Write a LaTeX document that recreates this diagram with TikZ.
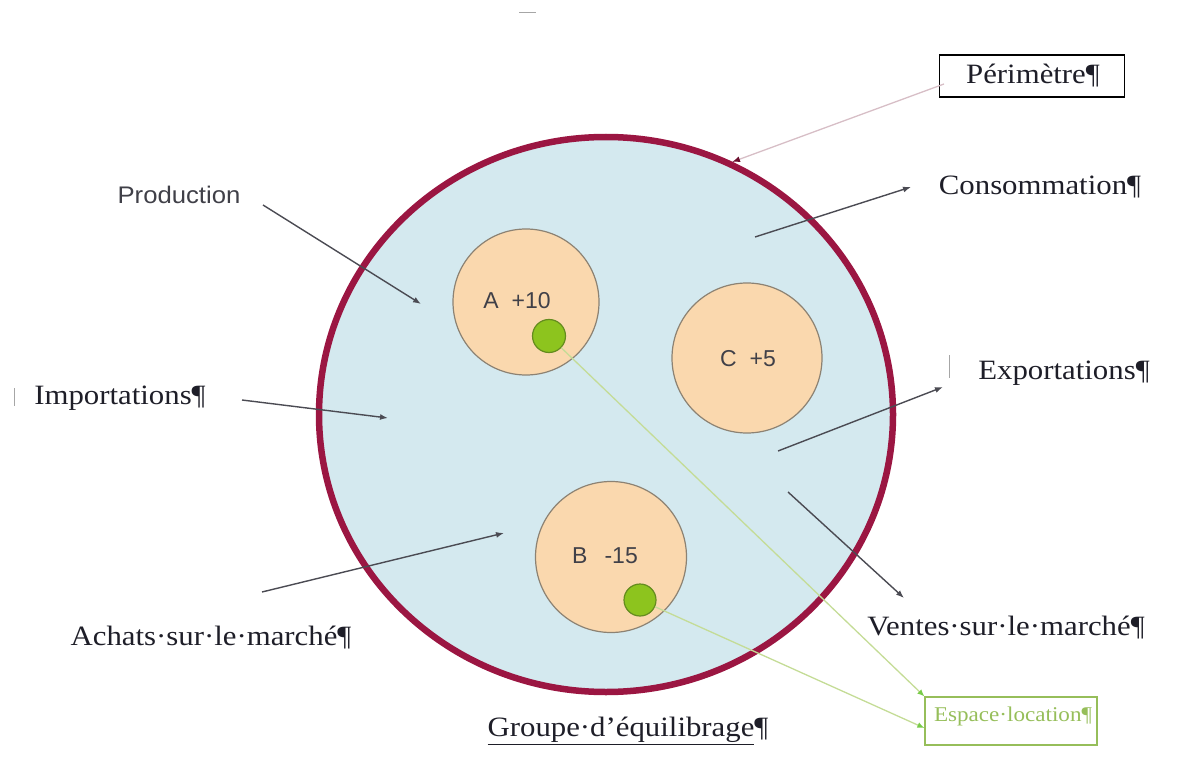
\documentclass[tikz,border=0pt]{standalone}
\usepackage{fontspec}
\setmainfont{Liberation Serif}
\newfontfamily\wideser[FakeStretch=1.1]{Liberation Serif}
\newfontfamily\arialf{Liberation Sans}
\newfontfamily\widearial[FakeStretch=1.07]{Liberation Sans}
\usetikzlibrary{arrows.meta,shapes.geometric}
\definecolor{maroon}{RGB}{155,22,66}
\definecolor{skyfill}{RGB}{212,233,239}
\definecolor{peach}{RGB}{250,216,174}
\definecolor{peachline}{RGB}{140,130,115}
\definecolor{dotgreen}{RGB}{141,196,30}
\definecolor{dotline}{RGB}{100,140,30}
\definecolor{espgreen}{RGB}{150,190,90}
\definecolor{espline}{RGB}{196,220,150}
\definecolor{perline}{RGB}{215,190,198}
\definecolor{txt}{RGB}{30,30,40}
\tikzset{
  serlab/.style={font=\wideser\fontsize{28}{30}\selectfont, text=txt, inner sep=0pt},
  sanlab/.style={font=\arialf\fontsize{23}{26}\selectfont, text=txt!85, inner sep=0pt},
  arr/.style={draw=txt!80, line width=1.4pt, -{Latex[length=8pt,width=6pt]}},
  member/.style={circle, fill=peach, draw=peachline, line width=1.2pt, inner sep=0pt},
  gdot/.style={circle, fill=dotgreen, draw=dotline, line width=1.2pt, inner sep=0pt},
  garr/.style={draw=espline, line width=1.3pt, -{Latex[length=7pt,width=6pt,fill=espgreen!80!green,color=espgreen!80!green]}},
  tick/.style={draw=gray!70, line width=1pt}
}
\begin{document}
\begin{tikzpicture}[x=1pt,y=-1pt]
\useasboundingbox (0,0) rectangle (1202,778);
% perimeter
\node[ellipse, fill=skyfill, draw=maroon, line width=6.5pt, minimum width=574pt, minimum height=555pt, inner sep=0pt] (grp) at (606,414.5) {};
% members
\node[member, minimum size=146pt] (A) at (526,302) {};
\node[member, minimum size=150pt] (C) at (747,358) {};
\node[member, minimum size=151pt] (B) at (611,557) {};
\node[sanlab] (Alab) at (517,301) {A\hspace{13pt}+10};
\node[sanlab] (Clab) at (748,359) {C\hspace{13pt}+5};
\node[sanlab] (Blab) at (605,556) {B\hspace{17pt}-15};
\node[gdot, minimum size=33pt] (dA) at (549,336) {};
\node[gdot, minimum size=32pt] (dB) at (640,600) {};
% labels
\node[draw=black, line width=1.6pt, minimum width=185pt, minimum height=42pt, inner sep=0pt] (per) at (1032,76) {};
\node[serlab] (perlab) at (1033,76) {Périmètre¶};
\node[sanlab, font=\widearial\fontsize{24}{26}\selectfont] (prod) at (179,195) {Production};
\node[serlab] (cons) at (1040,187) {Consommation¶};
\node[serlab] (imp) at (120,398) {Importations¶};
\node[serlab] (exp) at (1064,373) {Exportations¶};
\node[serlab] (ach) at (211,638) {Achats·sur·le·marché¶};
\node[serlab] (ven) at (1006,628) {Ventes·sur·le·marché¶};
\node[serlab] (grplab) at (628,731) {\underline{Groupe·d’équilibrage}¶};
\node[draw=espgreen, line width=1.3pt, minimum width=172pt, minimum height=48pt, inner sep=0pt] (esp) at (1011,721) {};
\node[serlab, text=espgreen, font=\wideser\fontsize{21}{24}\selectfont] (esplab) at (1013,716) {Espace·location¶};
% small marks
\draw[tick] (14,388) -- (14,406);
\draw[tick] (949,355) -- (949,378);
\draw[tick] (519,13) -- (536,13);
% arrows
\coordinate (perS) at (944,84);
\coordinate (perE) at (732,162);
\draw[draw=perline, line width=1.3pt, -{Latex[length=8pt,width=6pt,fill=maroon!70!black,color=maroon!70!black]}] (perS) -- (perE);
\coordinate (prodS) at (263,205);
\coordinate (prodE) at (421,304);
\draw[arr] (prodS) -- (prodE);
\coordinate (consS) at (755,237);
\coordinate (consE) at (911,187);
\draw[arr] (consS) -- (consE);
\coordinate (impS) at (242,400);
\coordinate (impE) at (388,418);
\draw[arr] (impS) -- (impE);
\coordinate (expS) at (778,451);
\coordinate (expE) at (943,387);
\draw[arr] (expS) -- (expE);
\coordinate (achS) at (262,592);
\coordinate (achE) at (504,533);
\draw[arr] (achS) -- (achE);
\coordinate (venS) at (788,492);
\coordinate (venE) at (904,598);
\draw[arr] (venS) -- (venE);
\draw[garr] (dA) -- (esp.north west);
\draw[garr] (dB) -- ([yshift=-7pt]esp.west);
\end{tikzpicture}
\end{document}
